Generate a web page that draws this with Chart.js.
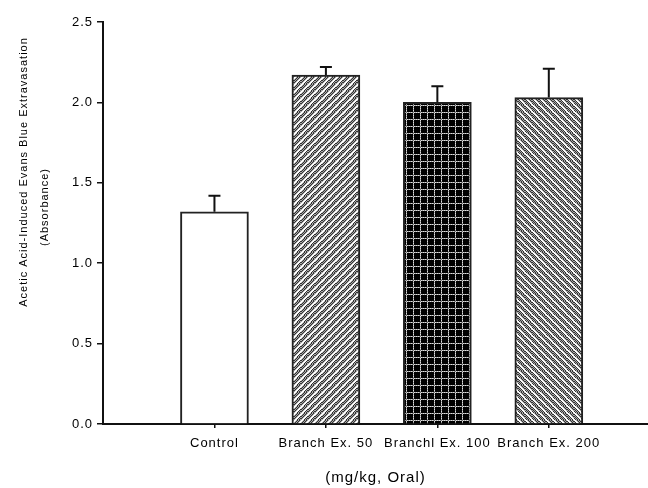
<!DOCTYPE html>
<html lang="en">
<head>
<meta charset="UTF-8">
<title>Evans Blue Extravasation</title>
<script src="https://cdn.jsdelivr.net/npm/chart.js"></script>
<style>
  html, body { margin: 0; padding: 0; background: #fff; }
</style>
</head>
<body>
<canvas id="chart" width="648" height="488"></canvas>
<script>
// values
const categories = ['Control', 'Branch Ex. 50', 'Branchl Ex. 100', 'Branch Ex. 200'];
const means = [1.32, 2.17, 2.00, 2.03];
const sems = [0.10, 0.05, 0.10, 0.18];
const yTicks = [0, 0.5, 1.0, 1.5, 2.0, 2.5];
const yTitle = ['Acetic Acid-Induced Evans Blue Extravasation', '(Absorbance)'];
const xTitle = '(mg/kg, Oral)';

const FONT = "'Liberation Sans', Arial, sans-serif";

// small pixel tiles for the hatch fills
function makePattern(kind) {
    const s = 7;
    const c = document.createElement('canvas');
    c.width = s; c.height = s;
    const g = c.getContext('2d');
    for (let i = 0; i < s; i++) {
        for (let j = 0; j < s; j++) {
            let col;
            if (kind === 'grid') {
                if (i === 0 && j === 0) col = '#777';
                else if (i === 0 || j === 0) col = (i + j) % 2 ? '#ddd' : '#999';
                else col = '#000';
            } else {
                const d = kind === 'up' ? (i + j) % s : (i - j + s) % s;
                if (d === 0 || d === 1) col = '#fff';
                else col = (i + j) % 2 ? '#333' : '#aaa';
            }
            g.fillStyle = col;
            g.fillRect(i, j, 1, 1);
        }
    }
    return g.createPattern(c, 'repeat');
}

const spacing = {
    id: 'spacing',
    beforeUpdate(chart) { chart.ctx.letterSpacing = '1px'; },
    beforeDraw(chart) { chart.ctx.letterSpacing = '1px'; }
};

const errorBars = {
    id: 'errorBars',
    afterDatasetsDraw(chart) {
        const ctx = chart.ctx;
        const y = chart.scales.y;
        const meta = chart.getDatasetMeta(0);
        ctx.save();
        ctx.strokeStyle = '#111';
        ctx.lineWidth = 2;
        meta.data.forEach((bar, i) => {
            const top = y.getPixelForValue(means[i] + sems[i]);
            ctx.beginPath();
            ctx.moveTo(bar.x, bar.y);
            ctx.lineTo(bar.x, top);
            ctx.moveTo(bar.x - 6, top);
            ctx.lineTo(bar.x + 6, top);
            ctx.stroke();
        });
        ctx.restore();
    }
};

// two-line rotated y title, placed like the original
const yTitlePlugin = {
    id: 'yTitle',
    afterDraw(chart) {
        const ctx = chart.ctx;
        const lines = [[24, 172], [45, 207]];
        lines.forEach((p, i) => {
            ctx.save();
            ctx.fillStyle = '#000';
            ctx.font = '11px ' + FONT;
            ctx.letterSpacing = '1px';
            ctx.textAlign = 'center';
            ctx.textBaseline = 'middle';
            ctx.translate(p[0], p[1]);
            ctx.rotate(-Math.PI / 2);
            ctx.fillText(yTitle[i], 0, 0);
            ctx.restore();
        });
    }
};

const ctx = document.getElementById('chart').getContext('2d');
new Chart(ctx, {
    type: 'bar',
    data: {
        datasets: [{
            data: categories.map((c, i) => ({ x: i + 1, y: means[i] })),
            backgroundColor: ['#fff', makePattern('up'), makePattern('grid'), makePattern('down')],
            borderColor: '#222',
            borderWidth: 2,
            barThickness: 68
        }]
    },
    options: {
        responsive: false,
        animation: false,
        layout: { padding: { top: 22, right: 0, left: 0, bottom: 0 } },
        plugins: { legend: { display: false }, tooltip: { enabled: false } },
        scales: {
            x: {
                type: 'linear',
                min: 0,
                max: 4.89,
                offset: false,
                grid: { offset: false, drawOnChartArea: false, tickLength: 4, color: '#111', lineWidth: 1.5 },
                border: { color: '#111', width: 2 },
                afterBuildTicks: s => { s.ticks = categories.map((c, i) => ({ value: i + 1 })); },
                ticks: {
                    callback: v => categories[v - 1],
                    font: { family: FONT, size: 13 },
                    color: '#000',
                    padding: 8,
                    maxRotation: 0,
                    autoSkip: false
                },
                title: {
                    display: true,
                    text: xTitle,
                    font: { family: FONT, size: 15 },
                    color: '#000',
                    padding: { top: 4, bottom: 1 }
                },
                afterFit: s => { s.height = 64; }
            },
            y: {
                min: 0,
                max: 2.5,
                afterBuildTicks: s => { s.ticks = yTicks.map(v => ({ value: v })); },
                grid: { drawOnChartArea: false, tickLength: 6, color: '#111', lineWidth: 1.5 },
                border: { color: '#111', width: 2 },
                ticks: {
                    callback: v => v.toFixed(1),
                    font: { family: FONT, size: 13 },
                    color: '#000',
                    padding: 4
                },
                afterFit: s => { s.width = 103; }
            }
        }
    },
    plugins: [spacing, errorBars, yTitlePlugin]
});
</script>
</body>
</html>
